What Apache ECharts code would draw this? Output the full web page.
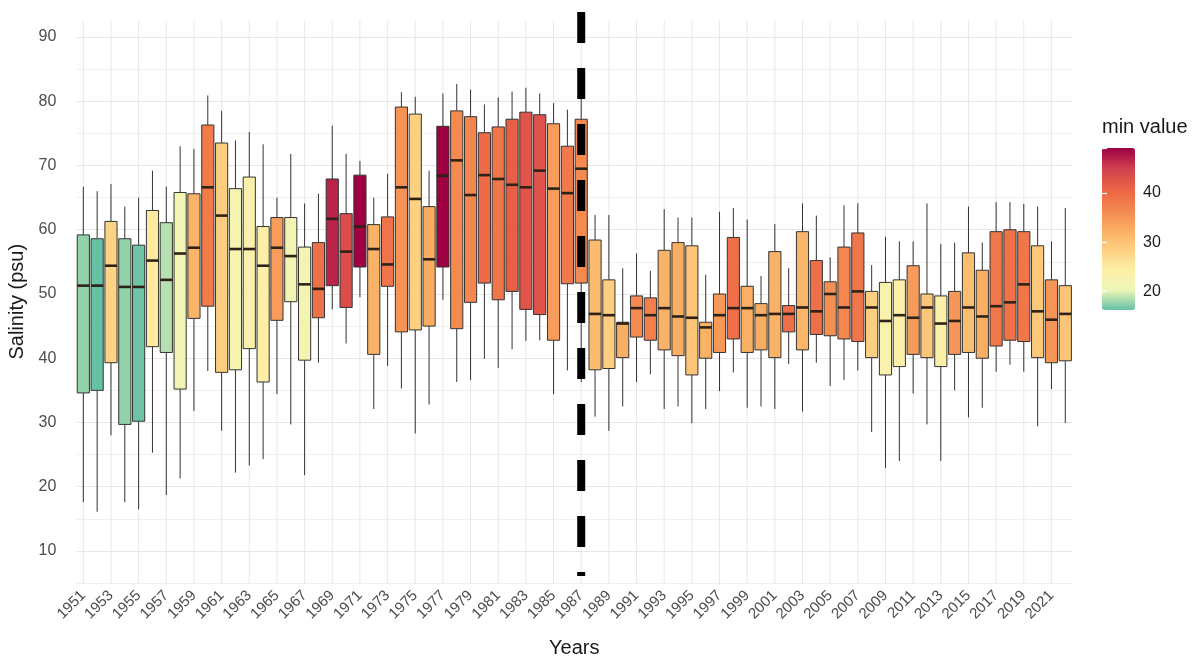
<!DOCTYPE html>
<html>
<head>
<meta charset="utf-8">
<title>Salinity by year</title>
<script src="https://cdn.jsdelivr.net/npm/echarts@6/dist/echarts.min.js"></script>
<style>
  html, body { margin: 0; padding: 0; background: #fff; }
  #chart { width: 1199px; height: 659px; }
</style>
</head>
<body>
<div id="chart"></div>
<script>
// categories
var years = ['1951','1952','1953','1954','1955','1956','1957','1958','1959','1960',
  '1961','1962','1963','1964','1965','1966','1967','1968','1969','1970',
  '1971','1972','1973','1974','1975','1976','1977','1978','1979','1980',
  '1981','1982','1983','1984','1985','1986','1987','1988','1989','1990',
  '1991','1992','1993','1994','1995','1996','1997','1998','1999','2000',
  '2001','2002','2003','2004','2005','2006','2007','2008','2009','2010',
  '2011','2012','2013','2014','2015','2016','2017','2018','2019','2020',
  '2021','2022'];

// box statistics (psu)
var whiskerLow = [17.6,16.1,28.0,17.6,16.5,25.3,18.7,21.3,31.8,38.0,
  28.7,22.2,23.3,24.3,34.4,29.7,21.8,39.3,47.6,42.3,
  49.5,32.1,38.8,35.3,28.3,32.8,49.1,36.3,36.6,39.9,
  38.5,41.4,42.7,42.8,34.4,38.1,36.3,30.9,28.7,32.5,
  36.3,37.5,32.1,32.5,29.9,32.1,34.9,37.8,32.3,32.5,
  32.1,39.1,31.7,39.3,35.7,36.6,38.1,28.5,22.9,24.0,
  34.5,29.7,24.0,35.0,30.8,32.3,37.9,39.0,37.9,29.4,
  35.2,29.9];
var q1 = [34.6,35.0,39.3,29.7,30.2,41.8,40.9,35.2,46.2,48.1,
  37.8,38.2,41.5,36.3,45.9,48.8,39.7,46.3,51.3,47.9,
  54.2,40.6,51.2,44.1,44.4,45.0,54.2,44.6,48.7,51.7,
  49.1,50.4,47.6,46.8,42.8,51.6,51.7,38.2,38.4,40.1,
  43.3,42.8,41.3,40.4,37.4,40.0,40.9,43.0,40.9,41.3,
  40.1,44.1,41.3,43.7,43.5,43.0,42.6,40.1,37.4,38.7,
  40.6,40.1,38.7,40.6,40.9,40.0,41.9,42.8,42.6,40.1,
  39.3,39.6];
var median = [51.3,51.3,54.4,51.1,51.1,55.2,52.2,56.3,57.2,66.6,
  62.2,57.0,57.0,54.4,57.2,55.9,51.5,50.8,61.7,56.6,
  60.5,57.0,54.6,66.6,64.8,55.4,68.4,70.8,65.4,68.5,
  67.9,67.0,66.6,69.2,66.4,65.7,69.5,46.9,46.7,45.4,
  47.8,46.7,47.8,46.5,46.3,44.8,46.7,47.8,47.8,46.7,
  46.9,46.9,47.9,47.3,50.0,47.9,50.4,47.9,45.8,46.7,
  46.3,47.9,45.4,45.8,47.9,46.5,48.1,48.7,51.5,47.3,
  46.0,46.9];
var q3 = [59.2,58.6,61.3,58.6,57.6,63.0,61.1,65.8,65.6,76.3,
  73.5,66.4,68.2,60.5,61.9,61.9,57.3,58.0,67.9,62.5,
  68.5,60.8,62.0,79.1,78.0,63.6,76.1,78.5,77.6,75.1,
  76.0,77.2,78.3,77.9,76.5,73.0,77.2,58.4,52.2,45.6,
  49.7,49.4,56.8,58.0,57.5,45.6,50.0,58.8,51.2,48.5,
  56.6,48.2,59.7,55.2,51.9,57.3,59.5,50.4,51.8,52.2,
  54.4,50.0,49.7,50.4,56.4,53.7,59.7,60.0,59.7,57.5,
  52.2,51.3];
var whiskerHigh = [66.7,66.0,67.1,63.6,65.0,69.2,66.7,73.0,72.6,80.9,
  78.5,73.9,75.2,73.3,65.0,71.8,64.1,65.6,76.2,71.8,
  70.7,65.0,68.7,81.4,80.7,69.2,81.2,82.7,81.8,79.5,
  80.6,81.5,82.1,81.2,79.7,78.7,81.7,62.3,62.3,54.0,
  56.3,53.6,63.2,61.9,61.9,53.0,62.8,63.4,61.6,52.8,
  60.9,54.0,64.1,62.2,55.7,63.8,64.1,54.5,58.9,58.2,
  58.2,64.1,57.8,58.0,63.6,58.0,64.3,64.3,64.0,63.6,
  58.2,63.4];
// fill variable ("min value")
var minValue = [17.6,16.3,28.0,17.6,16.5,25.3,18.7,21.3,31.8,38.0,
  28.7,22.2,23.3,24.3,34.4,21.5,21.8,39.3,46.8,43.5,
  49.1,32.1,38.8,35.3,28.3,32.8,49.1,36.3,36.6,39.9,
  38.5,41.4,42.7,42.8,34.4,38.1,36.3,30.9,28.7,32.5,
  36.3,37.5,32.1,32.5,29.9,32.1,34.9,39.5,32.3,32.5,
  32.1,39.5,31.7,39.3,35.7,36.6,38.6,28.5,22.9,24.0,
  34.5,29.7,24.0,35.0,30.8,32.3,38.5,39.0,38.5,29.4,
  35.2,29.9];

// tick labels
var labeledYears = ['1951','1953','1955','1957','1959','1961','1963','1965','1967','1969',
  '1971','1973','1975','1977','1979','1981','1983','1985','1987','1989',
  '1991','1993','1995','1997','1999','2001','2003','2005','2007','2009',
  '2011','2013','2015','2017','2019','2021'];
var yTickLabels = [10, 20, 30, 40, 50, 60, 70, 80, 90];
var legendTickLabels = [20, 30, 40];

// dashed break marker
var breakYear = '1987';
var breakSpan = [93.9, 6.1];

var fillMin = 16.3, fillMax = 49.1;
var fillRamp = ['#66C2A5', '#EEF6B8', '#FEEFA6', '#FDCF80', '#F9AD62',
                '#F3854E', '#EB6345', '#D1404F', '#9E0142'];

var boxData = years.map(function (y, i) {
  return [y, whiskerLow[i], q1[i], median[i], q3[i], whiskerHigh[i], minValue[i]];
});

var font = 'Liberation Sans, Arial, sans-serif';

function renderBox(params, api) {
  var x = api.value(0);
  var lo = api.coord([x, api.value(1)]);
  var b1 = api.coord([x, api.value(2)]);
  var md = api.coord([x, api.value(3)]);
  var b3 = api.coord([x, api.value(4)]);
  var hi = api.coord([x, api.value(5)]);
  var half = api.size([1, 0])[0] * 0.44;
  var cx = lo[0];
  return {
    type: 'group',
    children: [
      { type: 'line', shape: { x1: cx, y1: hi[1], x2: cx, y2: b3[1] }, style: { stroke: '#333', lineWidth: 1 } },
      { type: 'line', shape: { x1: cx, y1: b1[1], x2: cx, y2: lo[1] }, style: { stroke: '#333', lineWidth: 1 } },
      { type: 'rect', shape: { x: cx - half, y: b3[1], width: half * 2, height: b1[1] - b3[1] },
        style: { fill: api.visual('color'), stroke: '#333', lineWidth: 1 } },
      { type: 'line', shape: { x1: cx - half, y1: md[1], x2: cx + half, y2: md[1] },
        style: { stroke: '#2e2117', lineWidth: 2.6 } }
    ]
  };
}

function renderGridLine(params, api) {
  var x = api.coord([api.value(0), 50])[0];
  var cs = params.coordSys;
  return { type: 'line', shape: { x1: x, y1: cs.y, x2: x, y2: cs.y + cs.height },
           style: { stroke: '#e8e8e8', lineWidth: 1 } };
}

var myChart = echarts.init(document.getElementById('chart'));

var option = {
  animation: false,
  backgroundColor: '#fff',
  title: {
    text: 'min value', left: 1102, top: 117, padding: 0,
    textStyle: { fontFamily: font, fontSize: 20, fontWeight: 'normal', color: '#1a1a1a' }
  },
  grid: [
    { left: 76.4, top: 20.3, width: 995.8, height: 562.8, outerBoundsMode: 'none' },
    { left: 1102, top: 148, width: 33, height: 162, outerBoundsMode: 'none' }
  ],
  xAxis: [
    {
      type: 'category', data: years, gridIndex: 0,
      axisLine: { show: false }, axisTick: { show: false }, splitLine: { show: false },
      axisLabel: {
        interval: function (idx, val) { return labeledYears.indexOf(val) >= 0; },
        rotate: 45, margin: 10, fontSize: 15, color: '#4d4d4d', fontFamily: font
      },
      name: 'Years', nameLocation: 'middle', nameGap: 55,
      nameTextStyle: { fontSize: 20, color: '#1a1a1a', fontFamily: font }
    },
    { type: 'value', gridIndex: 1, show: false, min: 0, max: 1 }
  ],
  yAxis: [
    {
      type: 'value', gridIndex: 0, min: 5, max: 92.6, interval: 5,
      axisLine: { show: false }, axisTick: { show: false },
      axisLabel: {
        showMaxLabel: false, margin: 20, fontSize: 16, color: '#4d4d4d', fontFamily: font,
        formatter: function (v) { return yTickLabels.indexOf(v) >= 0 ? String(v) : ''; }
      },
      splitLine: { show: true, showMaxLine: false, lineStyle: { color: ['#f0f0f0', '#e6e6e6'], width: 1 } },
      name: 'Salinity (psu)', nameLocation: 'middle', nameGap: 44,
      nameTextStyle: { fontSize: 20, color: '#1a1a1a', fontFamily: font }
    },
    {
      type: 'value', gridIndex: 1, min: fillMin, max: fillMax, splitNumber: 3, position: 'right', z: 10,
      axisLine: { show: false }, splitLine: { show: false },
      axisTick: { show: true, inside: true, length: 5, lineStyle: { color: '#fff', width: 1.2 } },
      axisLabel: {
        showMinLabel: false, showMaxLabel: false, margin: 8, fontSize: 16, color: '#1a1a1a', fontFamily: font,
        formatter: function (v) { return legendTickLabels.indexOf(v) >= 0 ? String(v) : ''; }
      }
    },
    {
      type: 'value', gridIndex: 1, min: fillMin, max: fillMax, splitNumber: 3, position: 'left', z: 10,
      axisLine: { show: false }, splitLine: { show: false }, axisLabel: { show: false },
      axisTick: { show: true, inside: true, length: 5, lineStyle: { color: '#fff', width: 1.2 } }
    }
  ],
  visualMap: {
    type: 'continuous', min: fillMin, max: fillMax, dimension: 6, seriesIndex: 1,
    inRange: { color: fillRamp }, calculable: false, hoverLink: false,
    left: 1102, top: 148, itemWidth: 33, itemHeight: 162, padding: 0
  },
  series: [
    {
      type: 'custom', name: 'grid', xAxisIndex: 0, yAxisIndex: 0, z: 1, silent: true,
      data: labeledYears.map(function (y) { return [y]; }),
      dimensions: ['year'], encode: { x: 0 },
      renderItem: renderGridLine
    },
    {
      type: 'custom', name: 'salinity', xAxisIndex: 0, yAxisIndex: 0, z: 2,
      dimensions: ['year', 'low', 'q1', 'median', 'q3', 'high', 'minValue'],
      encode: { x: 0, y: [1, 2, 3, 4, 5] },
      data: boxData,
      renderItem: renderBox
    },
    {
      type: 'line', name: 'break', xAxisIndex: 0, yAxisIndex: 0, z: 5, silent: true, clip: false,
      symbol: 'none',
      data: [[breakYear, breakSpan[0]], [breakYear, breakSpan[1]]],
      lineStyle: { color: '#000', width: 8, type: [31, 25] }
    }
  ]
};

myChart.setOption(option);
</script>
</body>
</html>
